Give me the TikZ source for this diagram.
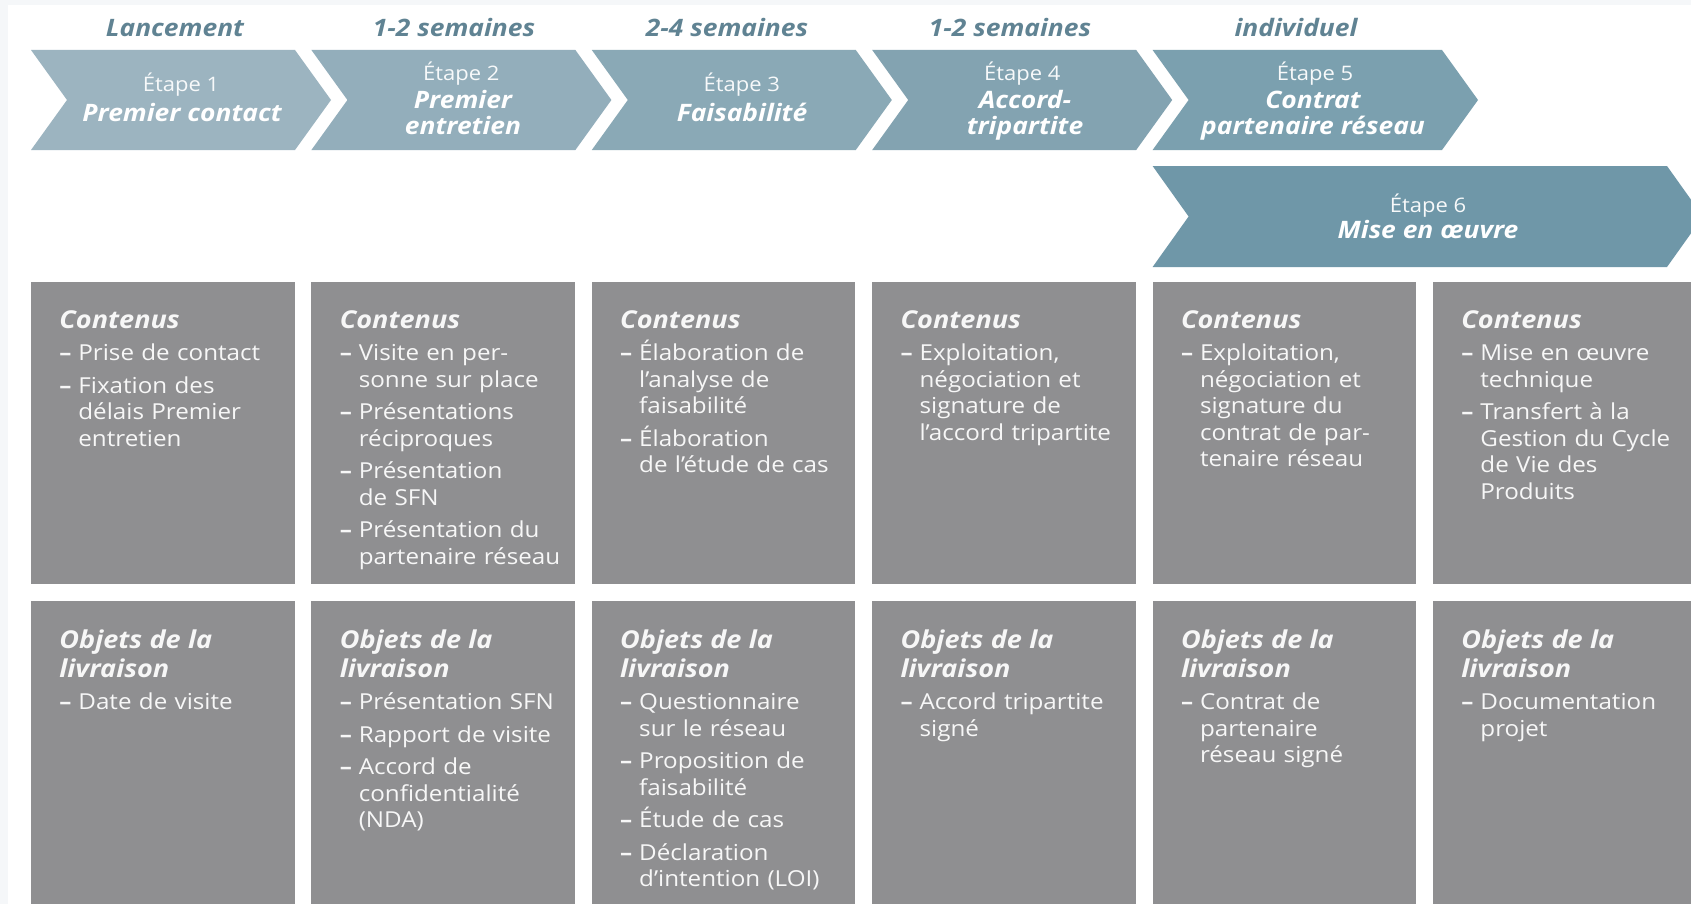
\documentclass[tikz,border=0pt]{standalone}
\usepackage{fontspec}
\setmainfont{Open Sans}[FakeStretch=1.1]
\definecolor{framecol}{HTML}{F5F7F9}
\definecolor{hdrcol}{HTML}{608393}
\definecolor{chA}{HTML}{9CB4C0}
\definecolor{chB}{HTML}{93AEBB}
\definecolor{chC}{HTML}{8AA9B6}
\definecolor{chD}{HTML}{83A3B1}
\definecolor{chE}{HTML}{7BA0AF}
\definecolor{chF}{HTML}{6F97A8}
\definecolor{boxgray}{HTML}{8F8F91}
\newcommand\hd[1]{\noindent{\fontsize{12.3}{14.5}\selectfont\bfseries\itshape\rule{0pt}{10pt}#1\par}}
\newcommand\itm[1]{\vspace{3pt}\hangindent=9.5pt\hangafter=1\noindent\makebox[9.5pt][l]{\textbf{–}}#1\par}
% chevron: left, top, bottom, corner x, depth, colour
\newcommand\chev[6]{\fill[#6] (#1,#2) -- (#4,#2) -- ({#4+#5},{(#2+#3)/2}) -- (#4,#3) -- (#1,#3) -- ({#1+#5},{(#2+#3)/2}) -- cycle;}
\tikzset{
  hdr/.style={font=\fontsize{12}{14}\selectfont\bfseries\itshape, text=hdrcol, anchor=base, inner sep=0pt},
  etp/.style={font=\fontsize{10}{12}\selectfont, text=white!92!chA, anchor=base, inner sep=0pt},
  ttl/.style={font=\fontsize{12}{14}\selectfont\bfseries\itshape, text=white, anchor=base, inner sep=0pt},
  btxt/.style={anchor=north west, inner sep=0pt, text width=135pt, align=left, text=white!97!black, font=\fontsize{11}{13.25}\selectfont},
}
\begin{document}
\begin{tikzpicture}[x=0.5pt,y=-0.5pt]
\useasboundingbox (0,0) rectangle (1691,904);
\clip (0,0) rectangle (1691,904);
\fill[framecol] (0,0) rectangle (1691,904);
\fill[white] (8,5) rectangle (1691,904);

% headers
\node[hdr] (h1) at (175,36.5) {Lancement};
\node[hdr] (h2) at (454,36.5) {1-2 semaines};
\node[hdr] (h3) at (727,36.5) {2-4 semaines};
\node[hdr] (h4) at (1010,36.5) {1-2 semaines};
\node[hdr] (h5) at (1296,36.5) {individuel};

% chevrons
\chev{31}{50}{150}{295}{36}{chA}
\chev{311.4}{50}{150}{575.4}{36}{chB}
\chev{591.8}{50}{150}{855.8}{36}{chC}
\chev{872.2}{50}{150}{1136.2}{36}{chD}
\chev{1152.6}{50}{150}{1442}{36}{chE}
\chev{1152.6}{166}{267}{1667}{36}{chF}

% chevron texts
\node[etp] (e1) at (181,92) {Étape 1};
\node[ttl] (t1) at (182,122) {Premier contact};
\node[etp] (e2) at (461.4,81) {Étape 2};
\node[ttl] (t2a) at (463,108.5) {Premier};
\node[ttl] (t2b) at (463,134) {entretien};
\node[etp] (e3) at (741.8,92) {Étape 3};
\node[ttl] (t3) at (742,122) {Faisabilité};
\node[etp] (e4) at (1022.2,81) {Étape 4};
\node[ttl] (t4a) at (1025,108.5) {Accord-};
\node[ttl] (t4b) at (1025,134) {tripartite};
\node[etp] (e5) at (1315,81) {Étape 5};
\node[ttl] (t5a) at (1313,108.5) {Contrat};
\node[ttl] (t5b) at (1313,134) {partenaire réseau};
\node[etp] (e6) at (1428,212) {Étape 6};
\node[ttl] (t6) at (1428,238) {Mise en œuvre};

% boxes
\foreach \L in {31,311.4,591.8,872.2,1152.6,1433}{
  \fill[boxgray] (\L,282) rectangle ({\L+263.5},584);
  \fill[boxgray] (\L,601) rectangle ({\L+263.5},920);
}

% row 1 texts
\node[btxt] (c1) at (59,308) {\hd{Contenus}\itm{Prise de contact}\itm{Fixation des\newline délais Premier\newline entretien}};
\node[btxt] (c2) at (339.4,308) {\hd{Contenus}\itm{Visite en per-\newline sonne sur place}\itm{Présentations\newline réciproques}\itm{Présentation\newline de SFN}\itm{Présentation du\newline partenaire réseau}};
\node[btxt] (c3) at (619.8,308) {\hd{Contenus}\itm{Élaboration de\newline l’analyse de\newline faisabilité}\itm{Élaboration\newline de l’étude de cas}};
\node[btxt] (c4) at (900.2,308) {\hd{Contenus}\itm{Exploitation,\newline négociation et\newline signature de\newline l’accord tripartite}};
\node[btxt] (c5) at (1180.6,308) {\hd{Contenus}\itm{Exploitation,\newline négociation et\newline signature du\newline contrat de par-\newline tenaire réseau}};
\node[btxt] (c6) at (1461,308) {\hd{Contenus}\itm{Mise en œuvre\newline technique}\itm{Transfert à la\newline Gestion du Cycle\newline de Vie des\newline Produits}};

% row 2 texts
\node[btxt] (o1) at (59,628) {\hd{Objets de la\newline livraison}\itm{Date de visite}};
\node[btxt] (o2) at (339.4,628) {\hd{Objets de la\newline livraison}\itm{Présentation SFN}\itm{Rapport de visite}\itm{Accord de\newline confidentialité\newline (NDA)}};
\node[btxt] (o3) at (619.8,628) {\hd{Objets de la\newline livraison}\itm{Questionnaire\newline sur le réseau}\itm{Proposition de\newline faisabilité}\itm{Étude de cas}\itm{Déclaration\newline d’intention (LOI)}};
\node[btxt] (o4) at (900.2,628) {\hd{Objets de la\newline livraison}\itm{Accord tripartite\newline signé}};
\node[btxt] (o5) at (1180.6,628) {\hd{Objets de la\newline livraison}\itm{Contrat de\newline partenaire\newline réseau signé}};
\node[btxt] (o6) at (1461,628) {\hd{Objets de la\newline livraison}\itm{Documentation\newline projet}};
\end{tikzpicture}
\end{document}
